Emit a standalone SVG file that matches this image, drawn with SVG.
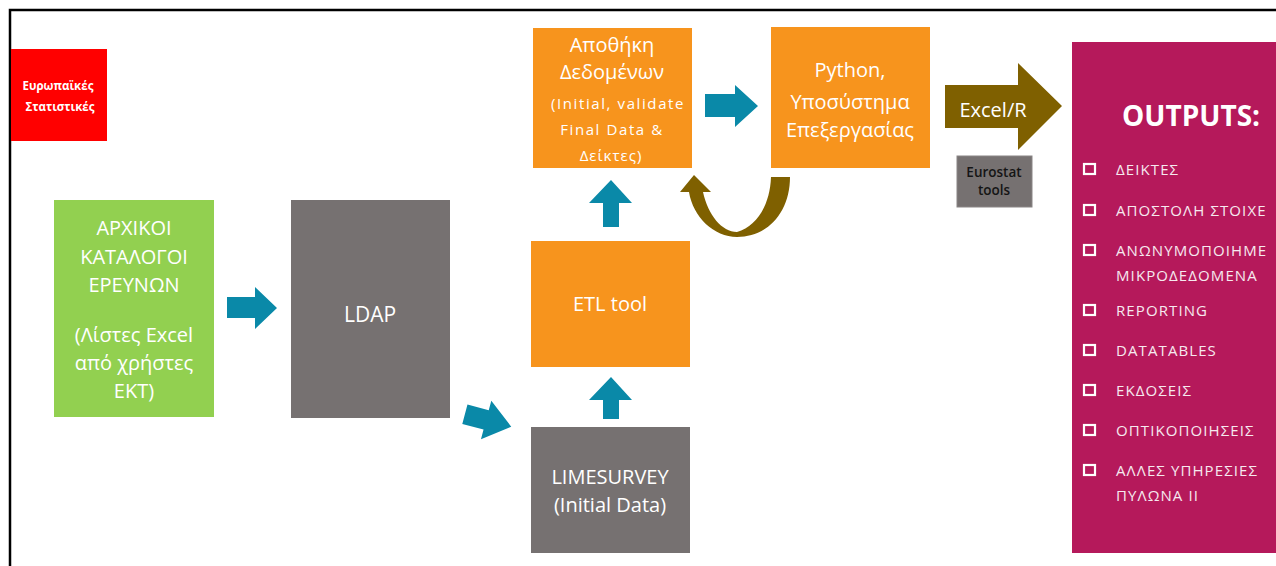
<svg xmlns="http://www.w3.org/2000/svg" width="1276" height="566" viewBox="0 0 1276 566">
<style>
.t{font-family:"Open Sans","Noto Sans","DejaVu Sans",sans-serif;fill:#fff;text-anchor:middle}
.big{font-size:20px}
.it{font-family:"Open Sans","Noto Sans","DejaVu Sans",sans-serif;fill:#f6e9ef;font-size:15px;letter-spacing:1.1px}
.teal{fill:#0A89A8}
.brown{fill:#7F6000}
.cb{fill:none;stroke:#fff;stroke-width:2.2}
</style>
<rect width="1276" height="566" fill="#fff"/>
<g id="frame"><path d="M10,566 V10 H1276" fill="none" stroke="#000" stroke-width="2.5"/></g>

<g id="eurostats">
<rect x="11" y="49" width="96" height="92" fill="#FF0000"/>
<text class="t" x="58" y="90" font-size="11.5" font-weight="bold">Ευρωπαϊκές</text>
<text class="t" x="60" y="111" font-size="11.5" font-weight="bold">Στατιστικές</text>
</g>

<g id="catalogs">
<rect x="54" y="200" width="160" height="217" fill="#92D050"/>
<text class="t big" x="134" y="235">ΑΡΧΙΚΟΙ</text>
<text class="t big" x="134" y="264">ΚΑΤΑΛΟΓΟΙ</text>
<text class="t big" x="134" y="292">ΕΡΕΥΝΩΝ</text>
<text class="t big" x="134" y="342">(Λίστες Excel</text>
<text class="t big" x="134" y="370">από χρήστες</text>
<text class="t big" x="134" y="398">ΕΚΤ)</text>
</g>

<g id="ldap">
<rect x="291" y="200" width="159" height="218" fill="#767171"/>
<text class="t" x="370" y="322" font-size="21">LDAP</text>
</g>

<g id="limesurvey">
<rect x="531" y="427" width="159" height="126" fill="#767171"/>
<text class="t big" x="610" y="484">LIMESURVEY</text>
<text class="t big" x="610" y="512">(Initial Data)</text>
</g>

<g id="etl">
<rect x="531" y="241" width="159" height="126" fill="#F7941D"/>
<text class="t big" x="610" y="311">ETL tool</text>
</g>

<g id="warehouse">
<rect x="533" y="28" width="159" height="140" fill="#F7941D"/>
<text class="t big" x="612" y="52">Αποθήκη</text>
<text class="t big" x="612" y="79">Δεδομένων</text>
<text class="t" x="618" y="109" font-size="15" letter-spacing="1.6">(Initial, validate</text>
<text class="t" x="612" y="135" font-size="15" letter-spacing="1.6">Final Data &amp;</text>
<text class="t" x="611" y="161" font-size="15" letter-spacing="1">Δείκτες)</text>
</g>

<g id="python">
<rect x="771" y="27" width="159" height="141" fill="#F7941D"/>
<text class="t big" x="850" y="77">Python,</text>
<text class="t big" x="850" y="109">Υποσύστημα</text>
<text class="t big" x="850" y="137">Επεξεργασίας</text>
</g>

<g id="eurostat-tools">
<rect x="957" y="156" width="75" height="51" fill="#767171" stroke="#8a8686" stroke-width="1"/>
<text class="t" x="994" y="177" font-size="13.5" font-weight="600" style="fill:#151515">Eurostat</text>
<text class="t" x="994" y="195" font-size="13.5" font-weight="600" style="fill:#151515">tools</text>
</g>

<g id="outputs">
<rect x="1072" y="42" width="220" height="511" fill="#B5195B"/>
<text x="1122" y="126" font-family="'Open Sans','Noto Sans',sans-serif" font-weight="bold" font-size="28" fill="#fff">OUTPUTS:</text>
<rect class="cb" x="1084" y="164" width="11" height="10"/>
<text class="it" x="1116" y="175">ΔΕΙΚΤΕΣ</text>
<rect class="cb" x="1084" y="205" width="11" height="10"/>
<text class="it" x="1116" y="216">ΑΠΟΣΤΟΛΗ ΣΤΟΙΧΕ</text>
<rect class="cb" x="1084" y="245" width="11" height="10"/>
<text class="it" x="1116" y="256">ΑΝΩΝΥΜΟΠΟΙΗΜΕ</text>
<text class="it" x="1116" y="281">ΜΙΚΡΟΔΕΔΟΜΕΝΑ</text>
<rect class="cb" x="1084" y="305" width="11" height="10"/>
<text class="it" x="1116" y="316">REPORTING</text>
<rect class="cb" x="1084" y="345" width="11" height="10"/>
<text class="it" x="1116" y="356">DATATABLES</text>
<rect class="cb" x="1084" y="385" width="11" height="10"/>
<text class="it" x="1116" y="396">ΕΚΔΟΣΕΙΣ</text>
<rect class="cb" x="1084" y="425" width="11" height="10"/>
<text class="it" x="1116" y="436">ΟΠΤΙΚΟΠΟΙΗΣΕΙΣ</text>
<rect class="cb" x="1084" y="465" width="11" height="10"/>
<text class="it" x="1116" y="476">ΑΛΛΕΣ ΥΠΗΡΕΣΙΕΣ</text>
<text class="it" x="1116" y="501">ΠΥΛΩΝΑ ΙΙ</text>
</g>

<g id="connectors">
<polygon class="teal" points="227,297 255,297 255,287 277,308 255,329 255,318 227,318"/>
<polygon class="teal" points="464,411 486,411 486,401 512,421 486,441 486,431 464,431" transform="rotate(15 490 421)"/>
<polygon class="teal" points="603,419 603,400 589,400 611,377 632,400 619,400 619,419"/>
<polygon class="teal" points="603,227 603,203 589,203 611,180 632,203 619,203 619,227"/>
<polygon class="teal" points="705,94 735,94 735,85 758,106 735,127 735,117 705,117"/>
<path class="brown" d="M771,177 L790,177 C790,212 768,237 737,237 C714,237 693,217 689,192 L680,192 L694,175 L711,192 L703,192 C708,215 722,232 737,232 C757,226 770,205 771,177 Z"/>
<polygon class="brown" points="945,85 1018,85 1018,63 1062,106 1018,150 1018,128 945,128"/>
<text class="t" x="993" y="117" font-size="20">Excel/R</text>
</g>
</svg>
